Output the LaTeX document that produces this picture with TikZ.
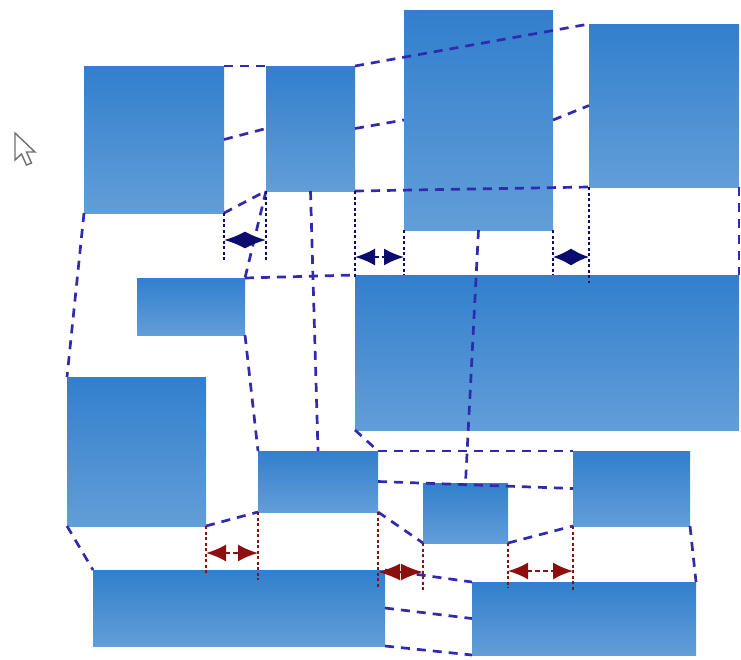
\documentclass[tikz,border=0pt]{standalone}
\usetikzlibrary{arrows.meta}
\definecolor{boxtop}{RGB}{50,127,205}
\definecolor{boxbot}{RGB}{98,158,216}
\definecolor{conn}{RGB}{48,42,175}
\definecolor{navyarr}{RGB}{12,12,110}
\definecolor{redarr}{RGB}{140,14,14}
\definecolor{cursorgray}{RGB}{110,110,110}
\tikzset{
  blk/.style={inner sep=0pt, outer sep=0pt, draw=none, top color=boxtop, bottom color=boxbot},
  conline/.style={draw=conn, line width=2.7pt, dash pattern=on 9pt off 7pt},
  extN/.style={draw=navyarr, line width=2.8pt, dash pattern=on 3pt off 2.5pt},
  extR/.style={draw=redarr, line width=2.8pt, dash pattern=on 3pt off 2.5pt},
  dimN/.style={draw=navyarr, line width=2pt, dash pattern=on 5pt off 3pt,
    {Latex[length=#1,width=17pt,fill=navyarr]}-{Latex[length=#1,width=17pt,fill=navyarr]}},
  dimN/.default=19pt,
  dimR/.style={draw=redarr, line width=2pt, dash pattern=on 5pt off 3pt,
    {Latex[length=#1,width=17pt,fill=redarr]}-{Latex[length=#1,width=17pt,fill=redarr]}},
  dimR/.default=19pt,
  pointer/.style={draw=cursorgray, line width=1.4pt, fill=white, line join=miter}
}
\newcommand\mkbox[5]{%
  \node[blk, minimum width={(#4-#2)*1pt}, minimum height={(#5-#3)*1pt}]
    (#1) at ({(#2+#4)/2},{(#3+#5)/2}) {};}
\begin{document}
\begin{tikzpicture}[x=1pt,y=-1pt]
\useasboundingbox (0,0) rectangle (741,659);
% blocks
\mkbox{R1}{84}{66}{224}{213}
\mkbox{R2}{266}{66}{355}{191}
\mkbox{R3}{404}{10}{553}{230}
\mkbox{R4}{589}{24}{739}{187}
\mkbox{R5}{137}{278}{245}{335}
\mkbox{R6}{355}{275}{739}{430}
\mkbox{R7}{67}{377}{206}{526}
\mkbox{R8}{258}{451}{378}{512}
\mkbox{R9}{423}{483}{508}{543}
\mkbox{R10}{573}{451}{690}{526}
\mkbox{R11}{93}{570}{385}{646}
\mkbox{R12}{472}{582}{696}{655}
% cursor
\draw[pointer] (15,133) -- (15,160) -- (21.5,154) -- (26.5,165) -- (31.5,163) -- (26.5,152) -- (35,152) -- cycle;
% dashed connectors
\draw[conline] (R1.north east) -- (R2.north west);
\draw[conline] (R1.east) -- (R2.west);
\draw[conline] (R1.south east) -- (R2.south west);
\draw[conline] (R2.north east) -- (R4.north west);
\draw[conline] (R2.east) -- (R3.west);
\draw[conline] (R3.east) -- (R4.west);
\draw[conline] (R2.south east) -- (R4.south west);
\draw[conline] (R4.south east) -- (R6.north east);
\draw[conline] (R1.south west) -- (R7.north west);
\draw[conline] (R2.south west) -- (R5.north east);
\draw[conline] (R2.south) -- (R8.north);
\draw[conline] (R5.north east) -- (R6.north west);
\draw[conline] (R5.south east) -- (R8.north west);
\draw[conline] (R6.south west) -- (R8.north east);
\draw[conline] (R8.north east) -- (R10.north west);
\draw[conline] (R3.south) -- (R9.north);
\draw[conline] (R8.east) -- (R10.west);
\draw[conline] (R8.south east) -- (R9.south west);
\draw[conline] (R9.south east) -- (R10.south west);
\draw[conline] (R10.south east) -- (R12.north east);
\draw[conline] (R7.south west) -- (R11.north west);
\draw[conline] (R7.south east) -- (R8.south west);
\draw[conline] (R11.north east) -- (R12.north west);
\draw[conline] (R11.east) -- (R12.west);
\draw[conline] (R11.south east) -- (R12.south west);
% dimension coordinates
\coordinate (x1a) at (224,262); \coordinate (x1b) at (266,262);
\coordinate (a1l) at (224,240); \coordinate (a1r) at (266,240);
\coordinate (x2a) at (355,278); \coordinate (x2b) at (404,275);
\coordinate (a2l) at (355,257); \coordinate (a2r) at (404,257);
\coordinate (x3a) at (553,275); \coordinate (x3b) at (589,283);
\coordinate (a3l) at (553,257); \coordinate (a3r) at (589,257);
\coordinate (x4a) at (206,575); \coordinate (x4b) at (258,580);
\coordinate (a4l) at (206,553); \coordinate (a4r) at (258,553);
\coordinate (x5a) at (378,587); \coordinate (x5b) at (423,590);
\coordinate (a5l) at (378,572); \coordinate (a5r) at (423,572);
\coordinate (x6a) at (508,588); \coordinate (x6b) at (573,592);
\coordinate (a6l) at (508,571); \coordinate (a6r) at (573,571);
% extension lines
\draw[extN] (R1.south east) -- (x1a);
\draw[extN] (R2.south west) -- (x1b);
\draw[extN] (R2.south east) -- (x2a);
\draw[extN] (R3.south west) -- (x2b);
\draw[extN] (R3.south east) -- (x3a);
\draw[extN] (R4.south west) -- (x3b);
\draw[extR] (R7.south east) -- (x4a);
\draw[extR] (R8.south west) -- (x4b);
\draw[extR] (R8.south east) -- (x5a);
\draw[extR] (R9.south west) -- (x5b);
\draw[extR] (R9.south east) -- (x6a);
\draw[extR] (R10.south west) -- (x6b);
% dimension arrows
\draw[dimN=21pt] (a1l) -- (a1r);
\draw[dimN=20pt] (a2l) -- (a2r);
\draw[dimN=18pt] (a3l) -- (a3r);
\draw[dimR=20pt] (a4l) -- (a4r);
\draw[dimR=22pt] (a5l) -- (a5r);
\draw[dimR=20pt] (a6l) -- (a6r);
\end{tikzpicture}
\end{document}
